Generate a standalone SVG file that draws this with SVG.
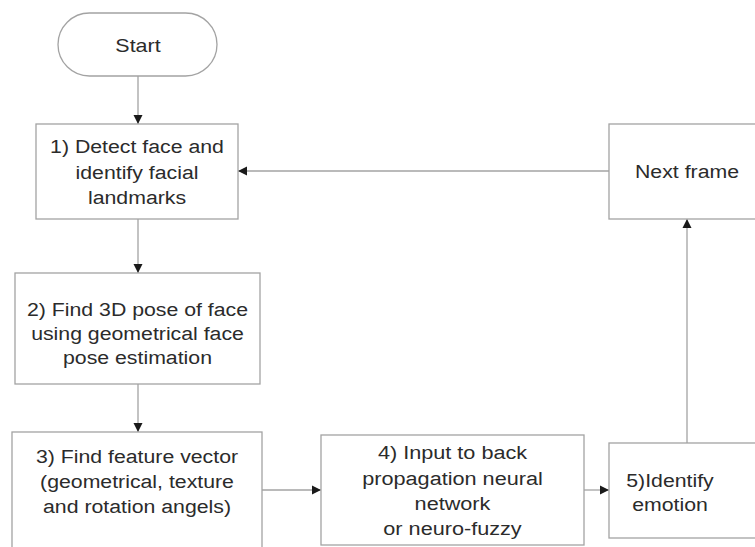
<svg xmlns="http://www.w3.org/2000/svg" width="755" height="547" viewBox="0 0 755 547">
<style>
.box{fill:#ffffff;stroke:#a3a3a3;stroke-width:1.3}
.t{font-family:"Liberation Sans",Arial,sans-serif;font-size:19px;fill:#2b2b2b;text-anchor:middle}
.c{fill:none;stroke:#a3a3a3;stroke-width:1.3;marker-end:url(#ah)}
</style>
<defs>
<marker id="ah" markerUnits="userSpaceOnUse" markerWidth="10" markerHeight="10" refX="9" refY="4.5" orient="auto" viewBox="0 0 10 9">
<path d="M0,0 L9,4.5 L0,9 z" fill="#1a1a1a"/>
</marker>
</defs>
<rect width="755" height="547" fill="#ffffff"/>
<g id="connectors">
<line class="c" x1="138" y1="76" x2="138" y2="124"/>
<line class="c" x1="138" y1="219" x2="138" y2="273"/>
<line class="c" x1="138" y1="384" x2="138" y2="432"/>
<line class="c" x1="262" y1="490" x2="321" y2="490"/>
<line class="c" x1="584" y1="490" x2="609" y2="490"/>
<line class="c" x1="687" y1="443" x2="687" y2="219"/>
<line class="c" x1="609" y1="171" x2="238" y2="171"/>
</g>
<g id="start">
<rect class="box" x="58" y="13" width="159" height="63" rx="31.5" ry="31.5"/>
<text class="t" transform="translate(138,0) scale(1.13,1)" y="52">Start</text>
</g>
<g id="step1">
<rect class="box" x="36" y="124" width="202" height="95"/>
<g class="t" transform="translate(137,0) scale(1.12,1)">
<text class="t" y="153">1) Detect face and</text>
<text class="t" y="179">identify facial</text>
<text class="t" y="204">landmarks</text>
</g>
</g>
<g id="next">
<rect class="box" x="609" y="124" width="160" height="95"/>
<text class="t" transform="translate(687,0) scale(1.12,1)" y="178">Next frame</text>
</g>
<g id="step2">
<rect class="box" x="15" y="273" width="245" height="111"/>
<g transform="translate(137.5,0) scale(1.12,1)">
<text class="t" y="316">2) Find 3D pose of face</text>
<text class="t" y="340">using geometrical face</text>
<text class="t" y="364">pose estimation</text>
</g>
</g>
<g id="step3">
<rect class="box" x="12" y="432" width="250" height="130"/>
<g transform="translate(137,0) scale(1.12,1)">
<text class="t" y="463">3) Find feature vector</text>
<text class="t" y="488">(geometrical, texture</text>
<text class="t" y="513">and rotation angels)</text>
</g>
</g>
<g id="step4">
<rect class="box" x="321" y="435" width="263" height="110"/>
<g transform="translate(452.5,0) scale(1.14,1)">
<text class="t" y="459">4) Input to back</text>
<text class="t" y="485">propagation neural</text>
<text class="t" y="510">network</text>
<text class="t" y="535">or neuro-fuzzy</text>
</g>
</g>
<g id="step5">
<rect class="box" x="609" y="443" width="160" height="95"/>
<g transform="translate(670,0) scale(1.12,1)">
<text class="t" y="487">5)Identify</text>
<text class="t" y="511">emotion</text>
</g>
</g>
</svg>
